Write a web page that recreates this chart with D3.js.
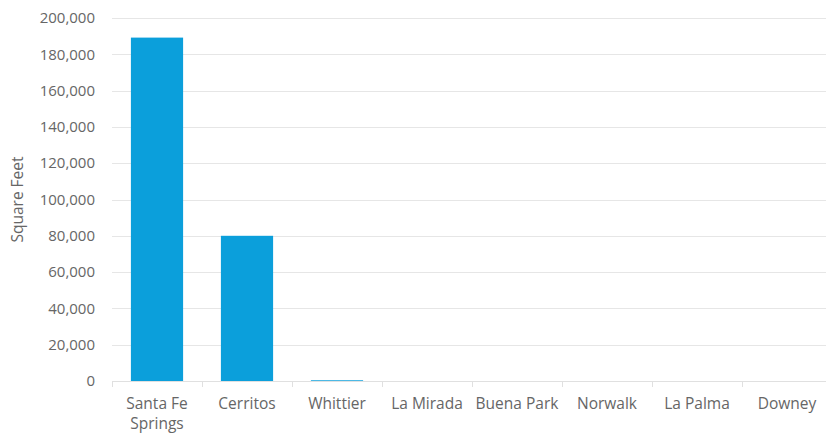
<!DOCTYPE html>
<html>
<head>
<meta charset="utf-8">
<title>Square Feet by City</title>
<style>
  body { margin: 0; background: #fff; }
  svg { display: block; font-family: "Open Sans", sans-serif; }
</style>
</head>
<body>
<svg id="chart"></svg>
<script src="https://cdn.jsdelivr.net/npm/d3@7/dist/d3.min.js"></script>
<script>
const cities = ["Santa Fe Springs", "Cerritos", "Whittier", "La Mirada", "Buena Park", "Norwalk", "La Palma", "Downey"];
const squareFeet = [189200, 80000, 400, 0, 0, 0, 0, 0];
const yTicks = [0, 20000, 40000, 60000, 80000, 100000, 120000, 140000, 160000, 180000, 200000];

const width = 826;
const height = 435;
const margin = {top: 18, right: -6, bottom: 54, left: 112};

const svg = d3.select("#chart")
    .attr("width", width)
    .attr("height", height);

const x = d3.scaleBand()
    .domain(cities)
    .range([margin.left, width - margin.right])
    .paddingInner(0.42)
    .paddingOuter(0.21);

const y = d3.scaleLinear()
    .domain([0, 200000])
    .range([height - margin.bottom, margin.top]);

const fmt = d3.format(",");

// grid
svg.append("g")
  .selectAll("line")
  .data(yTicks.slice(1))
  .join("line")
    .attr("x1", margin.left)
    .attr("x2", width)
    .attr("y1", d => Math.round(y(d)) + 0.5)
    .attr("y2", d => Math.round(y(d)) + 0.5)
    .attr("stroke", "#e6e6e6");

// y labels
svg.append("g")
    .attr("fill", "#666")
    .style("font-size", "15px")
  .selectAll("text")
  .data(yTicks)
  .join("text")
    .attr("x", margin.left - 17)
    .attr("y", d => y(d))
    .attr("dy", "0.35em")
    .attr("text-anchor", "end")
    .text(d => fmt(d));

svg.append("text")
    .attr("transform", `translate(23,${(y(0) + y(200000)) / 2}) rotate(-90)`)
    .attr("text-anchor", "middle")
    .attr("fill", "#666")
    .style("font-size", "15.5px")
    .text("Square Feet");

// bars
svg.append("g")
    .attr("fill", "#0b9fdb")
  .selectAll("rect")
  .data(cities.map((c, i) => ({city: c, value: squareFeet[i]})))
  .join("rect")
    .attr("x", d => x(d.city))
    .attr("width", x.bandwidth())
    .attr("y", d => y(d.value))
    .attr("height", d => y(0) - y(d.value));

// x axis
const step = x.step();
const xStart = margin.left;
const axis = svg.append("g");
axis.append("line")
    .attr("x1", xStart)
    .attr("x2", width)
    .attr("y1", Math.round(y(0)) + 0.5)
    .attr("y2", Math.round(y(0)) + 0.5)
    .attr("stroke", "#e0e0e0");

axis.selectAll("line.tick")
  .data(d3.range(cities.length + 1))
  .join("line")
    .attr("class", "tick")
    .attr("x1", i => Math.round(xStart + i * step) + 0.5)
    .attr("x2", i => Math.round(xStart + i * step) + 0.5)
    .attr("y1", y(0))
    .attr("y2", y(0) + 6)
    .attr("stroke", "#e0e0e0");

const labels = axis.append("g")
    .attr("fill", "#666")
    .style("font-size", "15.5px")
    .attr("text-anchor", "middle")
  .selectAll("text")
  .data(cities)
  .join("text")
    .attr("x", d => x(d) + x.bandwidth() / 2)
    .attr("y", y(0) + 28);

labels.each(function(d) {
  const t = d3.select(this);
  const lines = d === "Santa Fe Springs" ? ["Santa Fe", "Springs"] : [d];
  lines.forEach((l, i) => {
    t.append("tspan")
      .attr("x", x(d) + x.bandwidth() / 2)
      .attr("dy", i === 0 ? 0 : 20)
      .text(l);
  });
});
</script>
</body>
</html>
